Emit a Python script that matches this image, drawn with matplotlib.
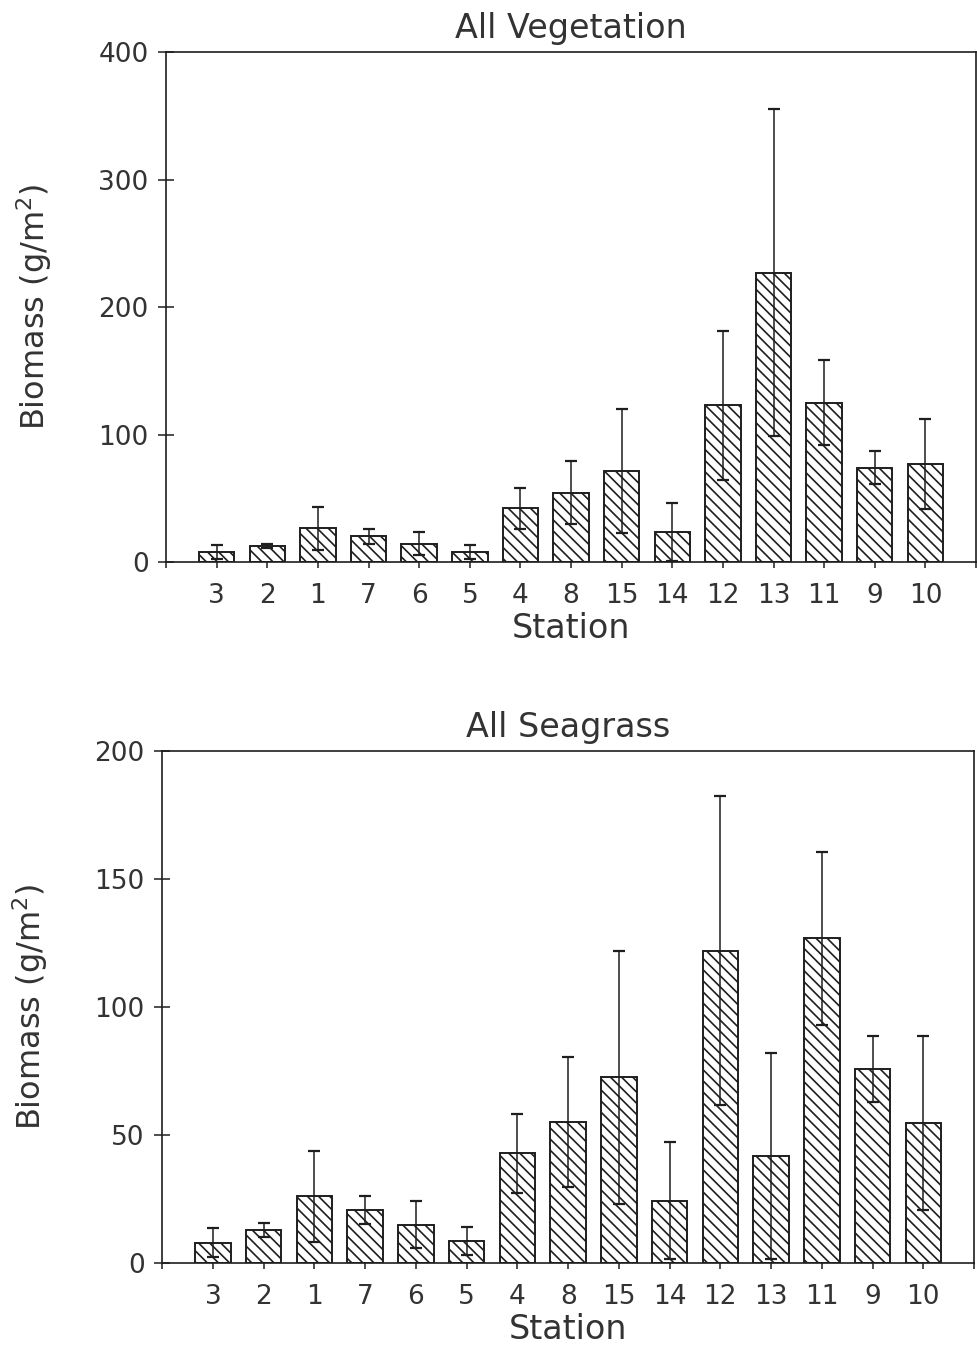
import matplotlib
matplotlib.use('Agg')
import matplotlib.pyplot as plt
import numpy as np

# %% Data (mean biomass and error bar half-length)

stations = ['3', '2', '1', '7', '6', '5', '4', '8', '15', '14',
            '12', '13', '11', '9', '10']

veg_mean = [8.1, 12.9, 26.3, 20.1, 14.5, 7.8, 42.0, 54.3, 71.3, 23.5,
            122.8, 227.0, 125.0, 74.1, 76.6]
veg_err = [5.6, 1.6, 17.1, 5.6, 9.0, 5.3, 15.9, 24.6, 48.7, 22.9,
           58.2, 128.0, 33.6, 12.6, 35.3]

sea_mean = [8.0, 12.9, 26.0, 20.6, 15.0, 8.5, 42.9, 55.0, 72.5, 24.4,
            122.0, 41.7, 126.8, 75.9, 54.8]
sea_err = [5.7, 2.6, 17.6, 5.4, 9.2, 5.5, 15.5, 25.4, 49.5, 22.9,
           60.4, 40.2, 33.7, 12.9, 34.0]

titles = ['All Vegetation', 'All Seagrass']
y_ticks = [[0, 100, 200, 300, 400], [0, 50, 100, 150, 200]]

# %% Style
INK = '#1e1e1e'
TXT = '#333333'
plt.rcParams['hatch.linewidth'] = 1.2
plt.rcParams['hatch.color'] = INK
plt.rcParams['text.color'] = TXT
plt.rcParams['axes.labelcolor'] = TXT
plt.rcParams['xtick.color'] = INK
plt.rcParams['ytick.color'] = INK
plt.rcParams['xtick.labelcolor'] = TXT
plt.rcParams['ytick.labelcolor'] = TXT

fig = plt.figure(figsize=(9.77, 13.52), dpi=100)
ax_top = fig.add_axes([0.170, 0.5843, 0.829, 0.3772])
ax_bot = fig.add_axes([0.166, 0.0658, 0.831, 0.3787])

x = np.arange(len(stations))

for ax, mean, err, title, yt in zip([ax_top, ax_bot],
                                    [veg_mean, sea_mean],
                                    [veg_err, sea_err],
                                    titles, y_ticks):
    ax.bar(x, mean, width=0.7, color='white', edgecolor=INK,
           linewidth=1.4, hatch='\\\\\\', zorder=2)
    ax.errorbar(x, mean, yerr=err, fmt='none', ecolor=INK,
                elinewidth=1.1, capsize=4, capthick=1.6, zorder=3)

    ax.set_xlim(-1, len(stations))
    ax.set_ylim(yt[0], yt[-1])
    ax.set_yticks(yt)
    ax.set_xticks(np.arange(-1, len(stations) + 1))
    ax.set_xticklabels([''] + stations + [''])

    ax.tick_params(axis='y', direction='inout', length=11, width=1.1,
                   pad=7, labelsize=19)
    ax.tick_params(axis='x', direction='out', length=4, width=1.1,
                   pad=11, labelsize=19)

    for side in ['left', 'right', 'top', 'bottom']:
        ax.spines[side].set_color(INK)
        ax.spines[side].set_linewidth(1.2)

    ax.set_title(title, fontsize=24, pad=10)
    ax.set_xlabel('Station', fontsize=24, labelpad=2)
    ax.set_ylabel('Biomass (g/m$^2$)', fontsize=23, labelpad=32)

fig.savefig('out.png', dpi=100)
